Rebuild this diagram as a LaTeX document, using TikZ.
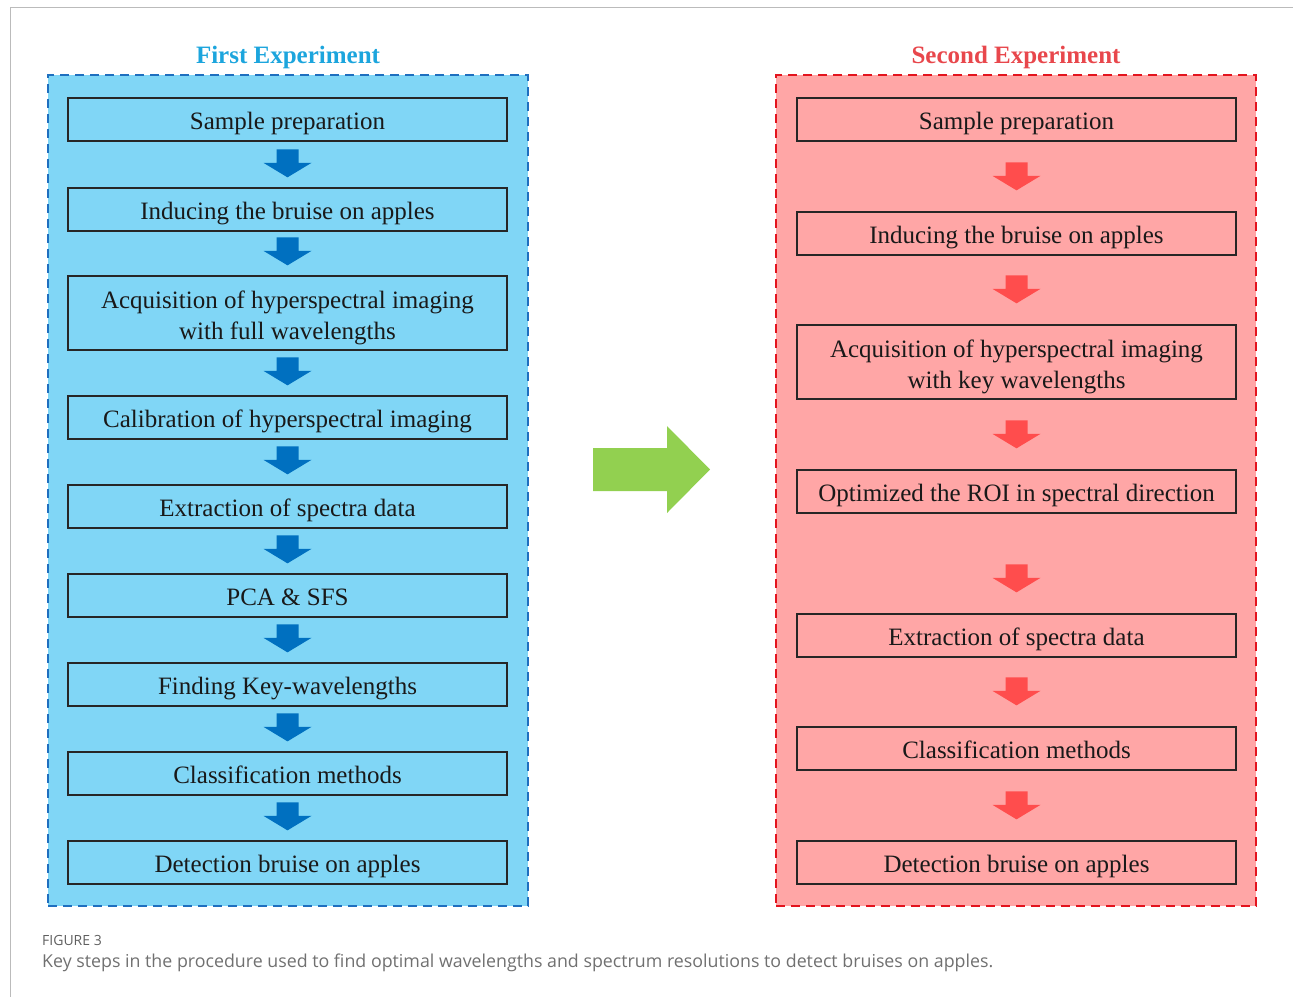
\documentclass[tikz,border=0pt]{standalone}
\usepackage{fontspec}
\setmainfont{Liberation Serif}
\newfontfamily\capfont{Open Sans}
\usetikzlibrary{calc}

\definecolor{panelblue}{HTML}{80D6F6}
\definecolor{edgeblue}{HTML}{1F6FBF}
\definecolor{arrowblue}{HTML}{0070C0}
\definecolor{titleblue}{HTML}{1CA5DD}
\definecolor{panelred}{HTML}{FFA6A6}
\definecolor{edgered}{HTML}{E3141E}
\definecolor{arrowred}{HTML}{FF4D4D}
\definecolor{titlered}{HTML}{E8474C}
\definecolor{arrowgreen}{HTML}{92D050}
\definecolor{framegray}{HTML}{BBBBBB}
\definecolor{captiongray}{HTML}{707070}

% block arrow pointing down onto node #2, its tip #3 above that node
\newcommand{\flowarrow}[4]{%
  \path (#1.south |- #2.north) ++(0,-#3) coordinate (tip);
  \fill[#4] (tip) -- ++(-24,-14.5) -- ++(13,0) -- ++(0,-13.5) -- ++(22,0)
    -- ++(0,13.5) -- ++(13,0) -- cycle;}

\begin{document}
\begin{tikzpicture}[x=1pt,y=-1pt,
  panel/.style={minimum width=480, minimum height=831, inner sep=0, line width=2.2,
    dash pattern=on 9 off 6},
  stepbox/.style={draw=black!85, line width=1.3, minimum width=439, minimum height=43,
    inner sep=2, align=center, text=black!90, text height=26, text depth=6,
    font=\fontsize{25}{31}\selectfont},
  tallbox/.style={stepbox, minimum height=74, text height=58},
  title/.style={font=\fontsize{25}{30}\selectfont\bfseries}]

\useasboundingbox (0,0) rectangle (1293,997);

% outer frame of the figure
\draw[framegray, line width=1] (1293,7.5) -- (10,7.5) -- (10,997);

% panels
\node[panel, draw=edgeblue, fill=panelblue] (pa) at (288,490.5) {};
\node[panel, draw=edgered, fill=panelred] (pb) at (1016,490.5) {};
\node[title, text=titleblue] (ta) at (288,57) {First Experiment};
\node[title, text=titlered] (tb) at (1016,57) {Second Experiment};

% first experiment
\node[stepbox] (a1) at (287.5,119.5) {Sample preparation};
\node[stepbox] (a2) at (287.5,209.5) {Inducing the bruise on apples};
\node[tallbox] (a3) at (287.5,313) {Acquisition of hyperspectral imaging\\with full wavelengths};
\node[stepbox] (a4) at (287.5,417.5) {Calibration of hyperspectral imaging};
\node[stepbox] (a5) at (287.5,506.5) {Extraction of spectra data};
\node[stepbox] (a6) at (287.5,595.5) {PCA \& SFS};
\node[stepbox] (a7) at (287.5,684.5) {Finding Key-wavelengths};
\node[stepbox] (a8) at (287.5,773.5) {Classification methods};
\node[stepbox] (a9) at (287.5,862.5) {Detection bruise on apples};

\flowarrow{a1}{a2}{10}{arrowblue}
\flowarrow{a2}{a3}{10}{arrowblue}
\flowarrow{a3}{a4}{10}{arrowblue}
\flowarrow{a4}{a5}{10}{arrowblue}
\flowarrow{a5}{a6}{10}{arrowblue}
\flowarrow{a6}{a7}{10}{arrowblue}
\flowarrow{a7}{a8}{10}{arrowblue}
\flowarrow{a8}{a9}{10}{arrowblue}

% second experiment
\node[stepbox] (b1) at (1016.5,119.5) {Sample preparation};
\node[stepbox] (b2) at (1016.5,233.5) {Inducing the bruise on apples};
\node[tallbox] (b3) at (1016.5,362) {Acquisition of hyperspectral imaging\\with key wavelengths};
\node[stepbox] (b4) at (1016.5,491.5) {Optimized the ROI in spectral direction};
\node[stepbox] (b5) at (1016.5,635.5) {Extraction of spectra data};
\node[stepbox] (b6) at (1016.5,748.5) {Classification methods};
\node[stepbox] (b7) at (1016.5,862.5) {Detection bruise on apples};

\flowarrow{b1}{b2}{21}{arrowred}
\flowarrow{b2}{b3}{21}{arrowred}
\flowarrow{b3}{b4}{21}{arrowred}
\flowarrow{b4}{b5}{21}{arrowred}
\flowarrow{b5}{b6}{21}{arrowred}
\flowarrow{b6}{b7}{21}{arrowred}

% transition between the two experiments
\fill[arrowgreen] (593,448) -- (667,448) -- (667,426) -- (710,469.5)
  -- (667,513) -- (667,491) -- (593,491) -- cycle;

% caption
\node[anchor=west, inner sep=0, text=captiongray!85!black,
  font=\capfont\fontsize{14}{16}\selectfont] (fig) at (42,940) {FIGURE 3};
\node[anchor=west, inner sep=0, text=captiongray,
  font=\capfont\fontsize{17.8}{21}\selectfont] (cap) at (42,963)
  {Key steps in the procedure used to find optimal wavelengths and spectrum resolutions to detect bruises on apples.};
\end{tikzpicture}
\end{document}
